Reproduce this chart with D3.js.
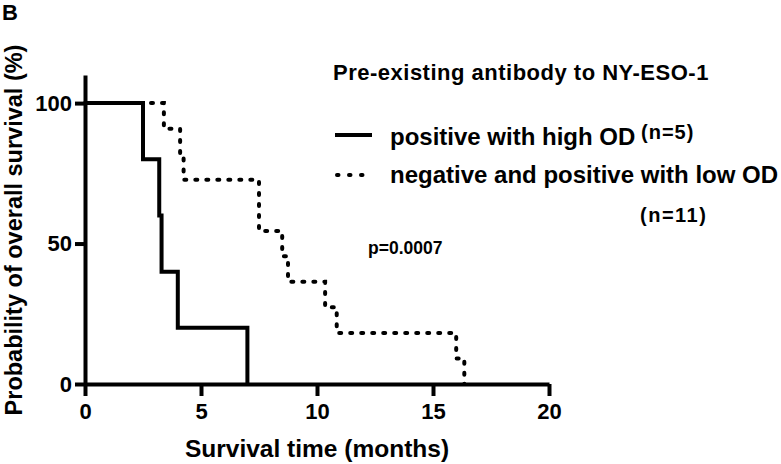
<!DOCTYPE html>
<html>
<head>
    <meta charset="UTF-8">
    <script src="https://d3js.org/d3.v7.min.js"></script>
    <style>
        body { margin: 0; background: #fff; }
        svg text { font-family: "Liberation Sans", Arial, sans-serif; font-weight: bold; fill: #000; }
        .axis path, .axis line { stroke: #000; stroke-width: 4px; fill: none; }
    </style>
</head>
<body>
<div id="chart"></div>
<script>
// Kaplan-Meier steps (time in months, survival in %)
const highODTimes = [0, 2.5, 3.2, 3.3, 4.0, 7.0];
const highODSurv  = [100, 80, 60, 40, 20, 0];
const lowODTimes  = [0, 3.4, 4.1, 4.25, 7.5, 8.5, 8.75, 10.35, 10.85, 16.0, 16.35];
const lowODSurv   = [100, 90.9, 81.8, 72.7, 54.5, 45.5, 36.4, 27.3, 18.2, 9.1, 0];
const xTicks = [0, 5, 10, 15, 20];
const yTicks = [0, 50, 100];

const width = 781, height = 464;
const svg = d3.select("#chart").append("svg")
    .attr("width", width).attr("height", height);

const x = d3.scaleLinear().domain([0, 20]).range([85, 549]);
const y = d3.scaleLinear().domain([0, 110]).range([384, 75]);

// axes
svg.append("g").attr("class", "axis")
    .attr("transform", "translate(0,384)")
    .call(d3.axisBottom(x).tickValues(xTicks).tickSize(12).tickSizeOuter(0).tickPadding(7))
    .call(g => g.selectAll("text").style("font-size", "22px"));

svg.append("g").attr("class", "axis")
    .attr("transform", "translate(85,0)")
    .call(d3.axisLeft(y).tickValues(yTicks).tickSize(10).tickSizeOuter(0).tickPadding(3))
    .call(g => g.selectAll("text").style("font-size", "22px"));

// survival curves
const line = d3.line()
    .x(d => x(d[0]))
    .y(d => y(d[1]))
    .curve(d3.curveStepAfter);

svg.append("path")
    .datum(d3.zip(lowODTimes, lowODSurv))
    .attr("fill", "none")
    .attr("stroke", "#000")
    .attr("stroke-width", 4)
    .attr("stroke-linecap", "round")
    .attr("stroke-dasharray", "2 9")
    .attr("d", line);

svg.append("path")
    .datum(d3.zip(highODTimes, highODSurv))
    .attr("fill", "none")
    .attr("stroke", "#000")
    .attr("stroke-width", 4)
    .attr("d", line);

// labels
svg.append("text").attr("x", 2).attr("y", 20).style("font-size", "22px").text("B");

svg.append("text")
    .attr("transform", "translate(22,230) rotate(-90)")
    .attr("text-anchor", "middle")
    .style("font-size", "23.5px")
    .text("Probability of overall survival (%)");

svg.append("text")
    .attr("x", 317).attr("y", 457)
    .attr("text-anchor", "middle")
    .style("font-size", "24.5px")
    .text("Survival time (months)");

// legend
svg.append("text").attr("x", 333).attr("y", 80).style("font-size", "22px")
    .style("letter-spacing", "0.5px")
    .text("Pre-existing antibody to NY-ESO-1");

svg.append("line")
    .attr("x1", 335).attr("x2", 372).attr("y1", 135).attr("y2", 135)
    .attr("stroke", "#000").attr("stroke-width", 4);
svg.append("text").attr("x", 390).attr("y", 145).style("font-size", "24px")
    .text("positive with high OD");
svg.append("text").attr("x", 641).attr("y", 139).style("font-size", "20px")
    .style("letter-spacing", "1px")
    .text("(n=5)");

svg.append("line")
    .attr("x1", 337).attr("x2", 372).attr("y1", 175).attr("y2", 175)
    .attr("stroke", "#000").attr("stroke-width", 4)
    .attr("stroke-linecap", "round").attr("stroke-dasharray", "1.5 10.5");
svg.append("text").attr("x", 390).attr("y", 183).style("font-size", "24px")
    .text("negative and positive with low OD");
svg.append("text").attr("x", 640).attr("y", 222).style("font-size", "20px")
    .style("letter-spacing", "1.5px")
    .text("(n=11)");

svg.append("text").attr("x", 368).attr("y", 254).style("font-size", "17.5px")
    .text("p=0.0007");
</script>
</body>
</html>
